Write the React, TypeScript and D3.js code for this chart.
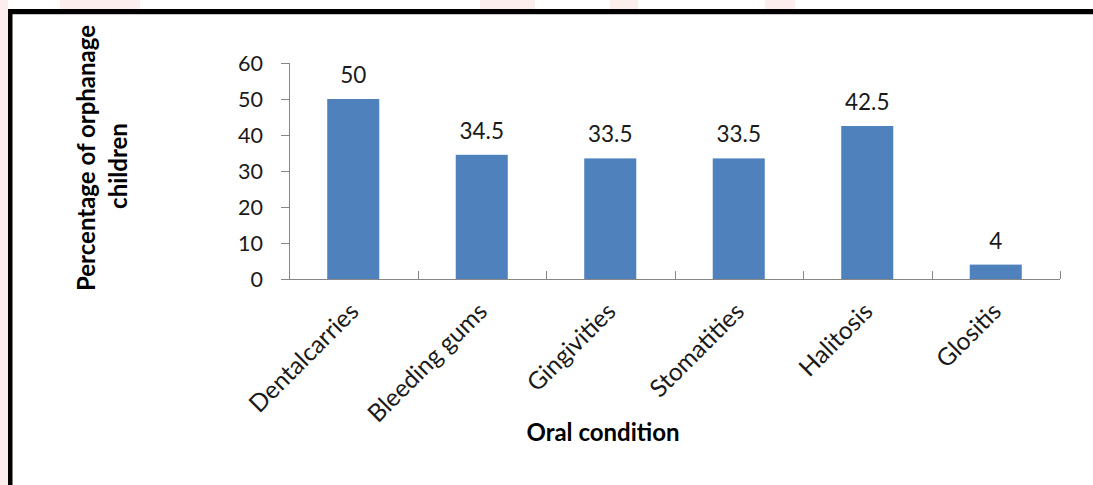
import React from "react";
import * as d3 from "d3";

// Oral conditions observed among orphanage children (% of children)
const conditions = ["Dentalcarries", "Bleeding gums", "Gingivities", "Stomatities", "Halitosis", "Glositis"];
const percentages = [50, 34.5, 33.5, 33.5, 42.5, 4];
const yTicks = [0, 10, 20, 30, 40, 50, 60];

const W = 1093;
const H = 485;
const FONT = "Lato, 'Open Sans', sans-serif";
const AXIS = "#868686";
const BAR = "#4F81BD";
const TEXT = "#1a1a1a";

const plot = { left: 289, right: 1060, top: 63, bottom: 279 };

// faint pink decoration behind the framed chart
const pinkBands = [
  { x: 0, y: 0, w: 8, h: 485 },
  { x: 480, y: 0, w: 55, h: 9 },
  { x: 610, y: 0, w: 28, h: 9 },
  { x: 765, y: 0, w: 30, h: 9 },
  { x: 60, y: 0, w: 80, h: 9 },
];

export default function App() {
  const x = d3
    .scaleBand<string>()
    .domain(conditions)
    .range([plot.left, plot.right])
    .paddingInner(0.595)
    .paddingOuter(0.2975);
  const xBoundary = d3.scaleLinear().domain([0, conditions.length]).range([plot.left, plot.right]);
  const y = d3.scaleLinear().domain([0, 60]).range([plot.bottom, plot.top]);

  return (
    <svg
      width={W}
      height={H}
      viewBox={`0 0 ${W} ${H}`}
      style={{ position: "absolute", left: 0, top: 0, background: "#fff" }}
    >
      {pinkBands.map((b, i) => (
        <rect key={i} x={b.x} y={b.y} width={b.w} height={b.h} fill="#fdeeee" />
      ))}

      {/* frame */}
      <rect x={8} y={9} width={W} height={H} fill="#fff" />
      <line x1={8} y1={14.5} x2={W} y2={14.5} stroke="#c8c8c8" strokeWidth={1} />
      <rect x={8} y={9} width={W - 8} height={5} fill="#000" />
      <rect x={8} y={9} width={4.5} height={H - 9} fill="#000" />

      {/* bars */}
      {conditions.map((c, i) => (
        <rect
          key={c}
          x={x(c)}
          y={y(percentages[i])}
          width={x.bandwidth()}
          height={y(0) - y(percentages[i])}
          fill={BAR}
        />
      ))}

      {/* y axis */}
      <line x1={plot.left + 0.5} y1={plot.top} x2={plot.left + 0.5} y2={plot.bottom} stroke={AXIS} />
      {yTicks.map((t) => (
        <g key={t}>
          <line x1={plot.left - 8} y1={Math.round(y(t)) + 0.5} x2={plot.left} y2={Math.round(y(t)) + 0.5} stroke={AXIS} />
          <text
            x={263}
            y={y(t)}
            dy="0.36em"
            textAnchor="end"
            fontFamily={FONT}
            fontSize={21.5}
            fill={TEXT}
          >
            {t}
          </text>
        </g>
      ))}

      {/* x axis */}
      <line x1={plot.left - 8} y1={plot.bottom + 0.5} x2={plot.right} y2={plot.bottom + 0.5} stroke={AXIS} />
      {d3.range(conditions.length + 1).map((i) => (
        <line
          key={i}
          x1={Math.round(xBoundary(i)) + 0.5}
          y1={plot.bottom - 8}
          x2={Math.round(xBoundary(i)) + 0.5}
          y2={plot.bottom}
          stroke={AXIS}
        />
      ))}

      {/* category labels */}
      {conditions.map((c) => {
        const cx = (x(c) ?? 0) + x.bandwidth() / 2 + 7;
        const cy = plot.bottom + 34;
        return (
          <text
            key={c}
            transform={`translate(${cx},${cy}) rotate(-45)`}
            textAnchor="end"
            fontFamily={FONT}
            fontSize={24.5}
            fill={TEXT}
          >
            {c}
          </text>
        );
      })}

      {/* value labels */}
      {conditions.map((c, i) => (
        <text
          key={c}
          x={(x(c) ?? 0) + x.bandwidth() / 2}
          y={y(percentages[i]) - 16}
          textAnchor="middle"
          fontFamily={FONT}
          fontSize={22.5}
          fill={TEXT}
        >
          {percentages[i]}
        </text>
      ))}

      {/* axis titles */}
      <text
        x={603}
        y={441}
        textAnchor="middle"
        fontFamily={FONT}
        fontWeight="bold"
        fontSize={24}
        fill="#000"
      >
        Oral condition
      </text>
      <text
        transform="translate(95,158) rotate(-90)"
        textAnchor="middle"
        fontFamily={FONT}
        fontWeight="bold"
        fontSize={24}
        fill="#000"
      >
        Percentage of orphanage
      </text>
      <text
        transform="translate(127,166) rotate(-90)"
        textAnchor="middle"
        fontFamily={FONT}
        fontWeight="bold"
        fontSize={24}
        fill="#000"
      >
        children
      </text>
    </svg>
  );
}
